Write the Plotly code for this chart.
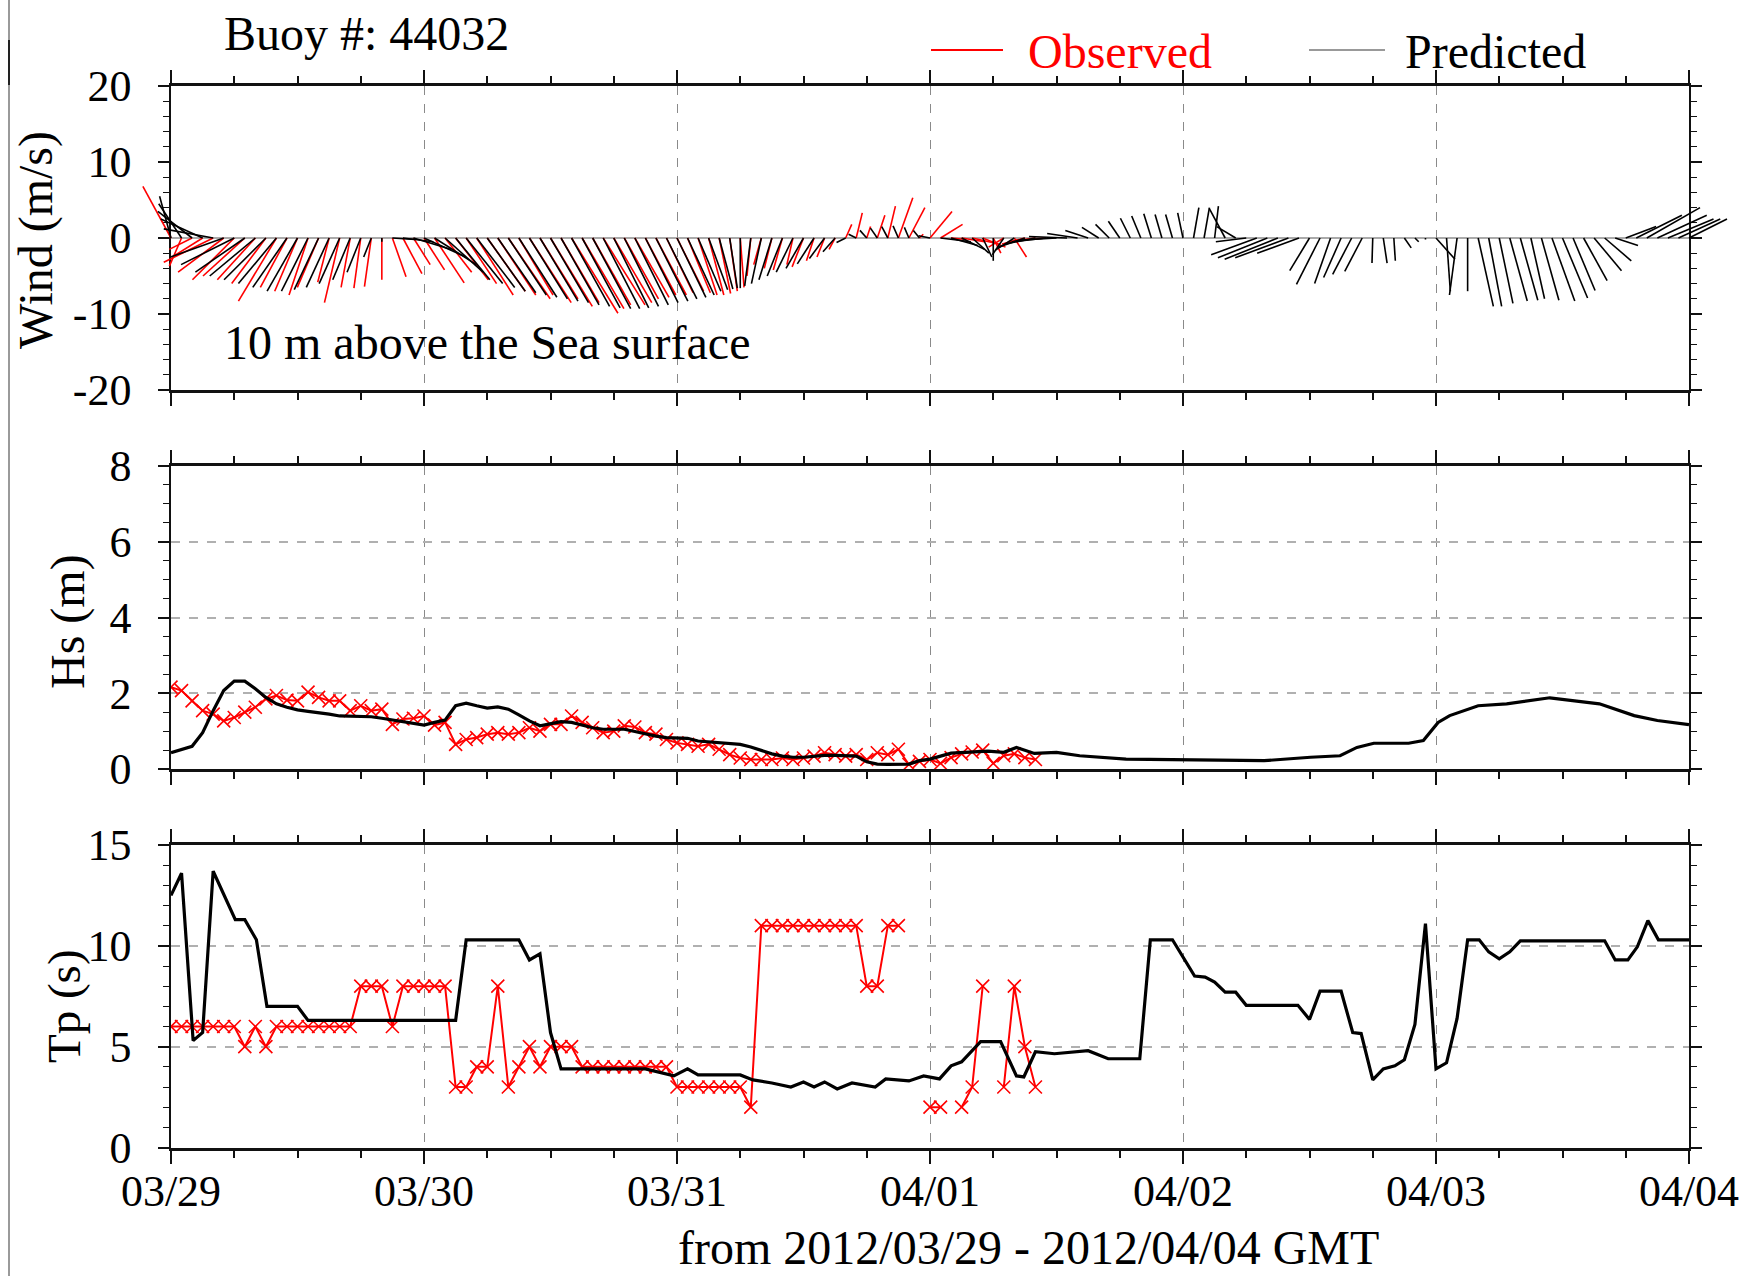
import plotly.graph_objects as go
import pandas as pd

# ---------------- data ----------------
start = "2012-03-29 00:00"
end = "2012-04-04 00:00"
buoy_label = "Buoy #: 44032"
height_label = "10 m above the Sea surface"
x_title = "from 2012/03/29 - 2012/04/04 GMT"

# hourly wind components (m/s), predicted: 03/29 00h .. 04/04 00h
wind_pred_u = [-1.5, -3.0, -4.5, -5.5, -6.5, -7.0, -7.0, -6.5, -6.0, -5.5,
               -5.0, -4.5, -4.0, -3.5, -3.2, -3.0, -2.7, -2.3, -1.8, -1.0,
               0.0, 3.0, 4.0, 5.0, 5.5, 5.5, 5.0, 4.5, 4.8, 5.0,
               5.0, 5.0, 5.0, 5.0, 5.0, 5.0, 5.0, 5.0, 5.0, 5.0,
               5.0, 4.8, 4.6, 4.5, 4.4, 4.3, 4.2, 4.0, 3.8, 3.5,
               3.0, 2.5, 1.8, 1.0, 0.0, -0.8, -1.3, -1.7, -2.0, -2.2,
               -2.3, -2.2, -2.0, -1.6, -1.2, -1.0, -0.9, -0.9, -0.8, -0.7,
               -0.6, -0.8, -1.5, 4.0, 3.5, 3.0, 2.2, 1.2, 0.0, -1.5,
               -2.5, -3.5, -4.0, -4.5, -5.0, -5.0, -4.0, -3.0, -2.2, -1.8,
               -1.5, -1.3, -1.2, -1.0, -0.9, -0.9, -0.7, 0.7, 0.7, 0.5,
               -2.1, -2.5, -4.0, -6.0, -6.5, -7.0, -7.0, -5.5, -2.6, -3.1,
               -2.1, -2.3, -2.5, -2.3, -0.1, 0.5, 0.2, 0.9, 0.5, 0.0,
               2.5, 0.5, -1.0, 0.0, 2.0, 1.7, 1.8, 2.3, 2.3, 1.8,
               2.3, 3.0, 3.3, 2.9, 3.1, 3.6, 3.5, 3.0, 4.0, 6.0,
               7.0, 6.5, 6.0, 5.5, 5.0]
wind_pred_v = [5.5, 4.5, 3.5, 2.5, 1.2, -2.5, -3.5, -4.5, -5.0, -5.5,
               -6.0, -6.5, -7.0, -7.0, -6.8, -6.5, -6.0, -5.5, -4.5, -2.5,
               -0.5, -0.2, -0.5, -1.5, -2.5, -3.5, -4.5, -5.5, -6.0, -6.5,
               -7.0, -7.2, -7.5, -7.8, -8.0, -8.3, -8.5, -8.8, -9.0, -9.2,
               -9.3, -9.3, -9.2, -9.0, -8.8, -8.5, -8.3, -8.0, -7.8, -7.5,
               -7.0, -6.8, -6.7, -6.6, -6.6, -6.3, -6.0, -5.5, -5.0, -4.5,
               -4.0, -3.4, -2.7, -1.8, -0.6, 0.5, 1.0, 1.3, 1.5, 1.6,
               1.4, 1.0, 0.3, -0.5, -1.0, -1.5, -2.0, -2.5, -3.0, -2.2,
               -1.6, -1.2, -0.8, -0.5, -0.3, 0.2, 0.6, 1.0, 1.4, 1.8,
               2.2, 2.6, 2.9, 3.2, 3.1, 3.1, 3.3, 4.0, 4.0, 4.2,
               3.9, 1.5, -0.5, -2.2, -2.6, -2.8, -2.6, -2.0, -4.3, -6.1,
               -6.0, -5.2, -4.8, -4.4, -3.3, -3.3, -3.0, -1.3, -0.5, -0.2,
               -2.8, -7.0, -7.5, -7.0, -9.0, -9.0, -8.6, -8.3, -8.2, -8.0,
               -8.2, -8.3, -7.9, -6.9, -5.6, -4.3, -3.0, -1.0, 1.5, 3.0,
               4.0, 3.0, 2.5, 2.5, 2.5]

# hourly wind components (m/s), observed: 03/29 00h .. 04/01 11h
wind_obs_u = [-3.7, -1.6, -3.0, -4.0, -6.5, -6.0, -5.5, -5.5, -5.0, -4.5,
              -5.0, -3.5, -3.0, -2.5, -2.8, -1.5, -2.0, -1.2, -0.9, -0.9,
              0.0, 1.8, 2.5, 2.2, 2.7, 3.9, 3.5, 4.3, 4.0, 4.8,
              5.0, 5.0, 5.5, 4.5, 5.5, 5.0, 5.5, 5.0, 6.1, 5.5,
              5.0, 5.5, 5.0, 4.5, 4.5, 4.0, 4.0, 3.5, 3.5, 3.0,
              2.5, 2.0, 1.5, 1.0, 0.5, -0.5, -1.0, -1.0, -1.2, -0.8,
              -1.5, -1.0, -1.0, -0.8, 0.8, 0.8, 0.5, 1.0, 1.0, 1.9,
              2.1, 0.5, 2.9, 2.9, 2.0, 3.0, 3.5, 3.0, 1.0, -2.0,
              1.6, -3.0, -3.5, -4.0]
wind_obs_v = [6.8, -3.7, -1.5, -2.5, -3.2, -4.5, -5.5, -5.0, -5.5, -6.0,
              -8.3, -6.5, -7.0, -7.5, -6.5, -5.8, -8.5, -6.5, -6.6, -6.4,
              -5.5, -5.1, -4.7, -3.5, -4.2, -5.9, -4.5, -5.5, -6.0, -7.5,
              -7.0, -7.5, -8.0, -7.5, -8.5, -8.0, -9.0, -8.5, -9.9, -9.3,
              -8.8, -8.8, -8.5, -8.0, -7.8, -7.5, -7.5, -7.2, -7.0, -7.2,
              -7.5, -7.5, -7.3, -7.0, -6.5, -5.0, -3.5, -4.0, -4.2, -3.5,
              -3.8, -3.0, -2.5, -1.5, 1.8, 3.3, 1.5, 3.0, 4.2, 5.3,
              4.0, 0.5, 3.5, 1.8, -0.2, -0.5, -0.8, -1.2, -2.0, -1.2,
              -2.5, -0.8, -0.5, -0.3]

# significant wave height (m)
hs_obs = [2.16, 2.07, 1.8, 1.54, 1.45, 1.27, 1.36, 1.5, 1.63, 1.85,
          1.94, 1.82, 1.8, 2.03, 1.89, 1.8, 1.8, 1.54, 1.67, 1.54,
          1.58, 1.18, 1.32, 1.34, 1.4, 1.16, 1.23, 0.65, 0.78, 0.83,
          0.92, 0.96, 0.92, 0.96, 1.09, 1.0, 1.18, 1.18, 1.4, 1.23,
          1.09, 0.96, 1.0, 1.14, 1.11, 0.96, 0.92, 0.78, 0.69, 0.65,
          0.6, 0.65, 0.52, 0.38, 0.29, 0.25, 0.25, 0.25, 0.29, 0.25,
          0.29, 0.34, 0.43, 0.38, 0.34, 0.38, 0.25, 0.43, 0.38, 0.52,
          0.12, 0.2, 0.25, 0.15, 0.3, 0.4, 0.45, 0.5, 0.15, 0.35,
          0.4, 0.3, 0.25]
hs_pred_hours = list(range(75)) + [77.5, 79, 80.2, 81.9, 84, 86.2, 90.6, 97.2,
                                   103.7, 108.1, 110.9, 112.5, 114.1, 117.4,
                                   118.8, 120.2, 121.3, 124, 126.7, 130.8,
                                   135.5, 138.8, 141, 144]
hs_pred = [0.43, 0.52, 0.6, 0.96, 1.54, 2.07, 2.32, 2.32, 2.12, 1.89,
           1.72, 1.63, 1.56, 1.52, 1.49, 1.45, 1.4, 1.4, 1.4, 1.38,
           1.34, 1.29, 1.24, 1.2, 1.16, 1.23, 1.29, 1.67, 1.74, 1.67,
           1.61, 1.64, 1.58, 1.43, 1.27, 1.14, 1.2, 1.25, 1.23, 1.16,
           1.09, 1.05, 1.05, 1.05, 0.99, 0.92, 0.87, 0.83, 0.81, 0.81,
           0.74, 0.72, 0.69, 0.69, 0.65, 0.58, 0.49, 0.4, 0.34, 0.31,
           0.31, 0.34, 0.36, 0.36, 0.36, 0.34, 0.19, 0.13, 0.12, 0.12,
           0.13, 0.22, 0.26, 0.34, 0.42,
           0.47, 0.44, 0.57, 0.41, 0.44, 0.35, 0.26, 0.25,
           0.22, 0.31, 0.35, 0.57, 0.68, 0.68,
           0.75, 1.23, 1.41, 1.67, 1.72, 1.88,
           1.72, 1.41, 1.28, 1.17]

# peak period (s)
tp_obs = [6, 6, 6, 6, 6, 6, 6, 5, 6, 5,
          6, 6, 6, 6, 6, 6, 6, 6, 8, 8,
          8, 6, 8, 8, 8, 8, 8, 3, 3, 4,
          4, 8, 3, 4, 5, 4, 5, 5, 5, 4,
          4, 4, 4, 4, 4, 4, 4, 4, 3, 3,
          3, 3, 3, 3, 3, 2, 11, 11, 11, 11,
          11, 11, 11, 11, 11, 11, 8, 8, 11, 11,
          None, None, 2, 2, None, 2, 3, 8, None, 3,
          8, 5, 3]
tp_pred_hours = [0, 1, 2.1, 3, 4, 6.1, 7, 8.1, 9.1, 12, 13, 27, 28, 33, 34, 35,
                 36, 37, 45, 47.7, 49, 50, 54, 55.2, 57, 58.8, 60, 61, 62, 63.2,
                 64.6, 66.8, 67.8, 70, 71.4, 72.9, 74, 75, 76.8, 78.7, 80.2,
                 80.9, 82, 83.8, 87, 88.9, 91.9, 92.9, 95, 97.1, 98.1, 99, 100,
                 101, 102, 106.9, 108, 109, 111, 112.1, 112.9, 114, 115, 116.1,
                 117, 118, 119, 120, 121, 122, 123, 124.1, 125, 126, 127, 128,
                 136, 137, 138.2, 139.1, 140.1, 141.1, 144]
tp_pred = [12.5, 13.6, 5.3, 5.7, 13.7, 11.3, 11.3, 10.3, 7.0, 7.0, 6.3, 6.3,
           10.3, 10.3, 9.3, 9.6, 5.7, 3.9, 3.9, 3.55, 3.9, 3.6, 3.6, 3.35, 3.2,
           3.0, 3.25, 3.0, 3.25, 2.9, 3.2, 3.0, 3.4, 3.3, 3.55, 3.4, 4.05,
           4.25, 5.25, 5.25, 3.55, 3.5, 4.75, 4.65, 4.8, 4.4, 4.4, 10.3, 10.3,
           8.5, 8.45, 8.2, 7.7, 7.7, 7.05, 7.05, 6.35, 7.75, 7.75, 5.7, 5.65,
           3.35, 3.9, 4.05, 4.35, 6.1, 11.1, 3.9, 4.2, 6.4, 10.3, 10.3, 9.7,
           9.35, 9.7, 10.25, 10.25, 9.3, 9.3, 9.95, 11.25, 10.3, 10.3]

# ---------------- layout geometry (pixels of the 1752x1276 page) ----------------
W, H = 1752, 1276
PX_L, PX_R = 171, 1689
WIND_T, WIND_B = 86, 390
HS_T, HS_B = 466, 769
TP_T, TP_B = 845, 1147.5
FONT = "Liberation Serif"
PAD = 60  # room for wind sticks that reach past the frame

t0 = pd.Timestamp(start)
t1 = pd.Timestamp(end)
hours_span = (t1 - t0) / pd.Timedelta(hours=1)
px_per_hour = (PX_R - PX_L) / hours_span
px_per_ms = (WIND_B - WIND_T) / 40.0
K = px_per_ms / px_per_hour  # hours of time axis per m/s of u, so sticks keep true angle


def sticks(u_list, v_list):
    xs, ys = [], []
    for i, (u, v) in enumerate(zip(u_list, v_list)):
        t = t0 + pd.Timedelta(hours=i)
        xs += [t, t + pd.Timedelta(hours=u * K), None]
        ys += [0, v, None]
    return xs, ys


def hours_to_time(hours):
    return [t0 + pd.Timedelta(hours=h) for h in hours]


fig = go.Figure()

# empty trace so that the framed wind subplot (x, y) is created and drawn
fig.add_trace(go.Scatter(x=[], y=[], xaxis="x", yaxis="y", showlegend=False))

ox, oy = sticks(wind_obs_u, wind_obs_v)
px_, py_ = sticks(wind_pred_u, wind_pred_v)
fig.add_trace(go.Scatter(x=ox, y=oy, mode="lines", line=dict(color="#ff0000", width=1.6),
                         xaxis="x4", yaxis="y4", showlegend=False, hoverinfo="skip"))
fig.add_trace(go.Scatter(x=px_, y=py_, mode="lines", line=dict(color="#000000", width=1.6),
                         xaxis="x4", yaxis="y4", showlegend=False, hoverinfo="skip"))

obs_marker = dict(symbol="x-thin-open", size=13, line=dict(color="#ff0000", width=1.6))
fig.add_trace(go.Scatter(x=hours_to_time(range(len(hs_obs))), y=hs_obs, mode="lines+markers",
                         line=dict(color="#ff0000", width=2), marker=obs_marker,
                         xaxis="x2", yaxis="y2", showlegend=False))
fig.add_trace(go.Scatter(x=hours_to_time(hs_pred_hours), y=hs_pred, mode="lines",
                         line=dict(color="#000000", width=3.2),
                         xaxis="x2", yaxis="y2", showlegend=False))

fig.add_trace(go.Scatter(x=hours_to_time(range(len(tp_obs))), y=tp_obs, mode="lines+markers",
                         line=dict(color="#ff0000", width=2), marker=obs_marker,
                         connectgaps=False, xaxis="x3", yaxis="y3", showlegend=False))
fig.add_trace(go.Scatter(x=hours_to_time(tp_pred_hours), y=tp_pred, mode="lines",
                         line=dict(color="#000000", width=3.2),
                         xaxis="x3", yaxis="y3", showlegend=False))

xdom = [PX_L / W, PX_R / W]


def ydom(top, bottom):
    return [1 - bottom / H, 1 - top / H]


day_ms = 86400000
xbase = dict(type="date", range=[t0, t1], domain=xdom, automargin=False, showline=True,
             linewidth=3, linecolor="#111111", mirror="allticks", ticks="outside", ticklen=13,
             tickwidth=1.5, tickcolor="#111111", tick0=t0, dtick=day_ms, tickformat="%m/%d",
             showgrid=True, gridcolor="#8a8a8a", griddash="dash", gridwidth=1.2,
             zeroline=False,
             minor=dict(dtick=day_ms // 4, tick0=t0, ticks="outside", ticklen=7,
                        tickwidth=1.5, tickcolor="#111111", showgrid=False),
             tickfont=dict(family=FONT, size=44, color="#000000"))
ybase = dict(automargin=False, showline=True, linewidth=1.5, linecolor="#111111",
             mirror="allticks", ticks="outside", ticklen=11, tickwidth=1.5, tickcolor="#111111",
             tickfont=dict(family=FONT, size=44, color="#000000"), ticklabelstandoff=18)

fig.update_layout(
    template="none",
    width=W, height=H, margin=dict(l=0, r=0, t=0, b=0, autoexpand=False),
    paper_bgcolor="#ffffff", plot_bgcolor="rgba(0,0,0,0)",
    xaxis=dict(xbase, anchor="y", showticklabels=False),
    xaxis2=dict(xbase, anchor="y2", showticklabels=False),
    xaxis3=dict(xbase, anchor="y3", showticklabels=True, ticklabelstandoff=-10),
    xaxis4=dict(type="date", anchor="y4", visible=False, showgrid=False, automargin=False,
                domain=[(PX_L - PAD) / W, (PX_R + PAD) / W],
                range=[t0 - pd.Timedelta(hours=PAD / px_per_hour),
                       t1 + pd.Timedelta(hours=PAD / px_per_hour)]),
    yaxis4=dict(anchor="x4", visible=False, showgrid=False, zeroline=False, automargin=False,
                domain=ydom(WIND_T, WIND_B), range=[-20, 20]),
    yaxis=dict(ybase, anchor="x", domain=ydom(WIND_T, WIND_B), range=[-20, 20],
               tickmode="array", tickvals=[-20, -10, 0, 10, 20],
               ticktext=["-20", "-10", "0", "10", "20"], showgrid=False,
               zeroline=True, zerolinecolor="#aaaaaa", zerolinewidth=1.5,
               minor=dict(tickmode="linear", tick0=0, dtick=2, ticks="outside", ticklen=6,
                          tickwidth=1.2, tickcolor="#111111", showgrid=False)),
    yaxis2=dict(ybase, anchor="x2", domain=ydom(HS_T, HS_B), range=[0, 8], dtick=2,
                showgrid=True, gridcolor="#b0b0b0", griddash="dash", gridwidth=1.8,
                zeroline=False,
                minor=dict(dtick=0.5, ticks="outside", ticklen=6, tickwidth=1.2,
                           tickcolor="#111111", showgrid=False)),
    yaxis3=dict(ybase, anchor="x3", domain=ydom(TP_T, TP_B), range=[0, 15], dtick=5,
                showgrid=True, gridcolor="#b0b0b0", griddash="dash", gridwidth=1.8,
                zeroline=False,
                minor=dict(dtick=1, ticks="outside", ticklen=6, tickwidth=1.2,
                           tickcolor="#111111", showgrid=False)),
)


def ann(text, x, y, size=48, color="#000000", angle=0, xanchor="left"):
    fig.add_annotation(text=text, x=x / W, y=1 - y / H, xref="paper", yref="paper",
                       xanchor=xanchor, yanchor="middle", showarrow=False, textangle=angle,
                       font=dict(family=FONT, size=size, color=color))


ann(buoy_label, 222, 34)
ann(height_label, 222, 342)
ann("Observed", 1026, 52, color="#ff0000")
ann("Predicted", 1403, 52)
ann("Wind (m/s)", 36, 240, angle=-90, xanchor="center")
ann("Hs (m)", 68, 622, angle=-90, xanchor="center")
ann("Tp (s)", 64, 1006, size=47, angle=-90, xanchor="center")
ann(x_title, 1028, 1247, xanchor="center")

# legend line samples
fig.add_shape(type="line", xref="paper", yref="paper", x0=931 / W, x1=1003 / W,
              y0=1 - 50 / H, y1=1 - 50 / H, line=dict(color="#ff0000", width=2))
fig.add_shape(type="line", xref="paper", yref="paper", x0=1309 / W, x1=1385 / W,
              y0=1 - 50 / H, y1=1 - 50 / H, line=dict(color="#999999", width=2))
# page edge line on the left
fig.add_shape(type="line", xref="paper", yref="paper", x0=9 / W, x1=9 / W,
              y0=0, y1=1, line=dict(color="#9a9a9a", width=2))
fig.add_shape(type="line", xref="paper", yref="paper", x0=9 / W, x1=9 / W,
              y0=1 - 85 / H, y1=1 - 40 / H, line=dict(color="#222222", width=2))

fig.write_html("out.html")
